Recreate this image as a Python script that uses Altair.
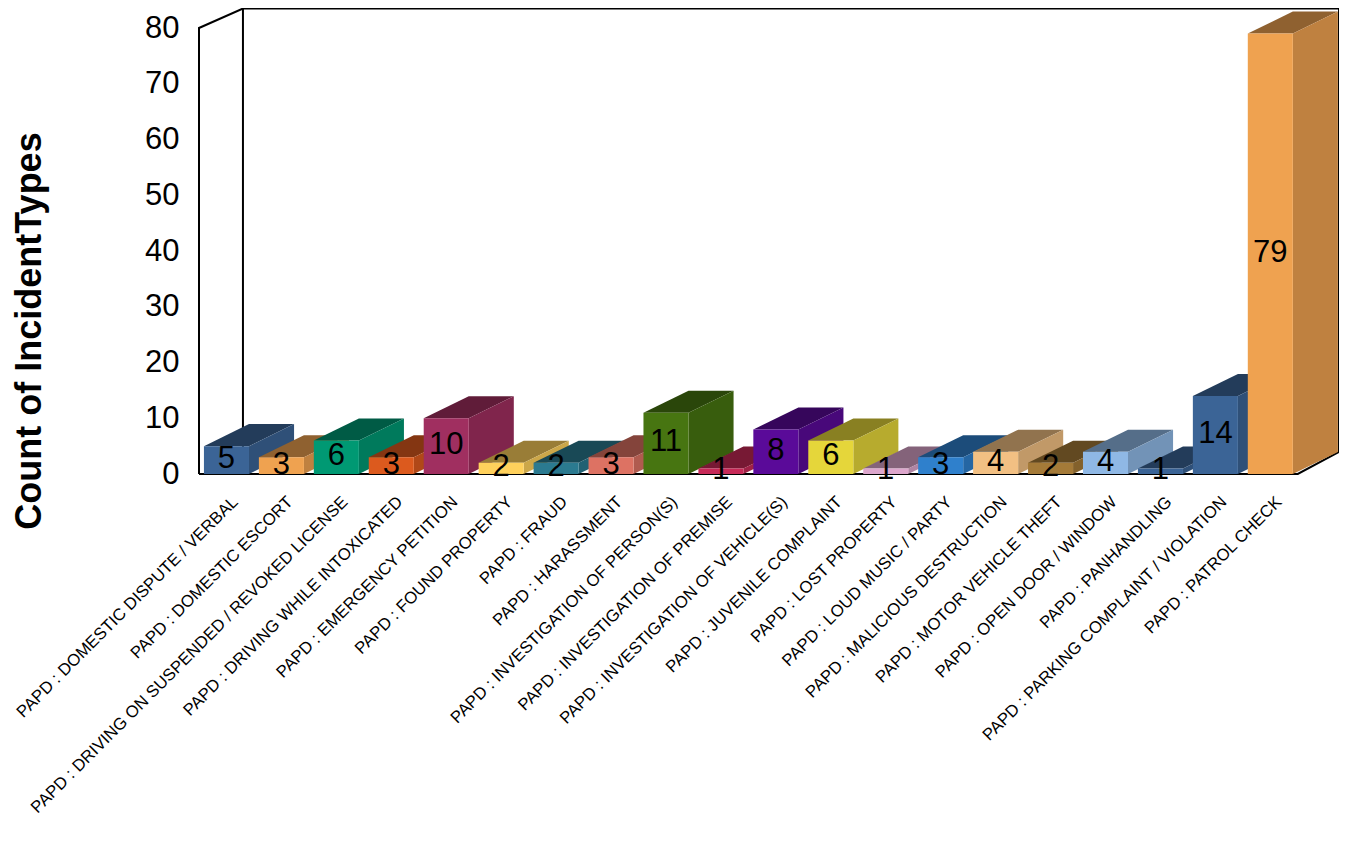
import json
import altair as alt
import pandas as pd

categories = [
    "PAPD : DOMESTIC DISPUTE / VERBAL", "PAPD : DOMESTIC ESCORT",
    "PAPD : DRIVING ON SUSPENDED / REVOKED LICENSE", "PAPD : DRIVING WHILE INTOXICATED",
    "PAPD : EMERGENCY PETITION", "PAPD : FOUND PROPERTY", "PAPD : FRAUD", "PAPD : HARASSMENT",
    "PAPD : INVESTIGATION OF PERSON(S)", "PAPD : INVESTIGATION OF PREMISE",
    "PAPD : INVESTIGATION OF VEHICLE(S)", "PAPD : JUVENILE COMPLAINT", "PAPD : LOST PROPERTY",
    "PAPD : LOUD MUSIC / PARTY", "PAPD : MALICIOUS DESTRUCTION", "PAPD : MOTOR VEHICLE THEFT",
    "PAPD : OPEN DOOR / WINDOW", "PAPD : PANHANDLING",
    "PAPD : PARKING COMPLAINT / VIOLATION", "PAPD : PATROL CHECK",
]
values = [5, 3, 6, 3, 10, 2, 2, 3, 11, 1, 8, 6, 1, 3, 4, 2, 4, 1, 14, 79]
front_colors = ["#3B6496", "#EFA250", "#009973", "#DC5A1E", "#A02F60", "#FFD15C", "#2B7A90",
                "#DD7263", "#477511", "#C72A58", "#5A0A99", "#E5D63A", "#DCA6CC", "#2F80CC",
                "#F2C083", "#A47A38", "#8FB8E5", "#3B6496", "#3B6496", "#EFA250"]
y_ticks = [0, 10, 20, 30, 40, 50, 60, 70, 80]

GAP, BAR, DX, DY = 0.09, 0.82, 0.82, 3.95
X_MAX, Y_MAX = 20.75, 83.5
FONT = "Liberation Sans"


def shade(hex_color, k):
    r, g, b = (int(hex_color[i:i + 2], 16) for i in (1, 3, 5))
    return "#%02X%02X%02X" % (int(r * k), int(g * k), int(b * k))


rows = []
labels = []
for i, (v, c) in enumerate(zip(values, front_colors)):
    x0 = i + GAP
    x1 = x0 + BAR
    x2 = x1 + DX
    top = shade(c, 0.6)
    side = shade(c, 0.8)
    rows += [
        dict(face=f"{i:02d}a", x=x0, lo=v, hi=v, fill=top),
        dict(face=f"{i:02d}a", x=x1, lo=v, hi=v + DY, fill=top),
        dict(face=f"{i:02d}a", x=x2, lo=v + DY, hi=v + DY, fill=top),
        dict(face=f"{i:02d}b", x=x1, lo=0, hi=v, fill=side),
        dict(face=f"{i:02d}b", x=x2, lo=DY, hi=v + DY, fill=side),
        dict(face=f"{i:02d}c", x=x0, lo=0, hi=v, fill=c),
        dict(face=f"{i:02d}c", x=x1, lo=0, hi=v, fill=c),
    ]
    labels.append(dict(x=x0 + BAR / 2, y=v / 2, label=str(v)))

frame_pts = [(0, 0), (0, 80), (DX - 0.02, Y_MAX), (X_MAX, Y_MAX), (X_MAX, DY), (20, 0), (0, 0)]
back_pts = [(DX - 0.02, Y_MAX), (DX - 0.02, DY)]
frame = pd.DataFrame(
    [dict(seg="outer", o=k, x=a, y=b) for k, (a, b) in enumerate(frame_pts)]
    + [dict(seg="back", o=k, x=a, y=b) for k, (a, b) in enumerate(back_pts)]
)

x_scale = alt.Scale(domain=[0, X_MAX], nice=False, zero=False)
y_scale = alt.Scale(domain=[0, Y_MAX], nice=False)

label_expr = json.dumps(categories) + "[round(datum.value - 0.65)]"

frame_layer = alt.Chart(frame).mark_line(color="black", strokeWidth=2, clip=False, strokeJoin="miter").encode(
    x=alt.X("x:Q", scale=x_scale, axis=alt.Axis(
        values=[i + 0.65 for i in range(len(categories))], labelExpr=label_expr,
        labelAngle=-45, labelAlign="right", labelBaseline="middle", labelFont=FONT,
        labelFontSize=16.8, labelColor="black", labelPadding=25, labelLimit=700,
        labelOverlap=False, labelBound=False, labelFlush=False,
        domain=False, ticks=False, grid=False, title=None)),
    y=alt.Y("y:Q", scale=y_scale, axis=alt.Axis(
        values=y_ticks, labelFont=FONT, labelFontSize=31, labelColor="black",
        labelPadding=20, domain=False, ticks=False, grid=False,
        title="Count of IncidentTypes", titleFont=FONT, titleFontSize=36,
        titleFontWeight="bold", titleColor="black", titleAngle=-90,
        titleAnchor="middle", titleAlign="center", titleX=-151, titleY=322)),
    detail="seg:N", order="o:Q",
)

bars = alt.Chart(pd.DataFrame(rows)).mark_area(interpolate="linear", line=False).encode(
    x=alt.X("x:Q", scale=x_scale),
    y=alt.Y("hi:Q", scale=y_scale),
    y2="lo:Q",
    detail="face:N",
    color=alt.Color("fill:N", scale=None),
)

text = alt.Chart(pd.DataFrame(labels)).mark_text(
    font=FONT, fontSize=31, color="black", dy=-1, baseline="middle", align="center"
).encode(
    x=alt.X("x:Q", scale=x_scale),
    y=alt.Y("y:Q", scale=y_scale),
    text="label:N",
)

chart = alt.layer(frame_layer, bars, text).properties(
    width=1140, height=465.5,
    padding=alt.Padding(left=191, top=0.5, right=0, bottom=356),
    autosize=alt.AutoSizeParams(type="none"),
).configure_view(stroke=None)

chart.save("out.html", embed_options={"renderer": "svg", "actions": False})
